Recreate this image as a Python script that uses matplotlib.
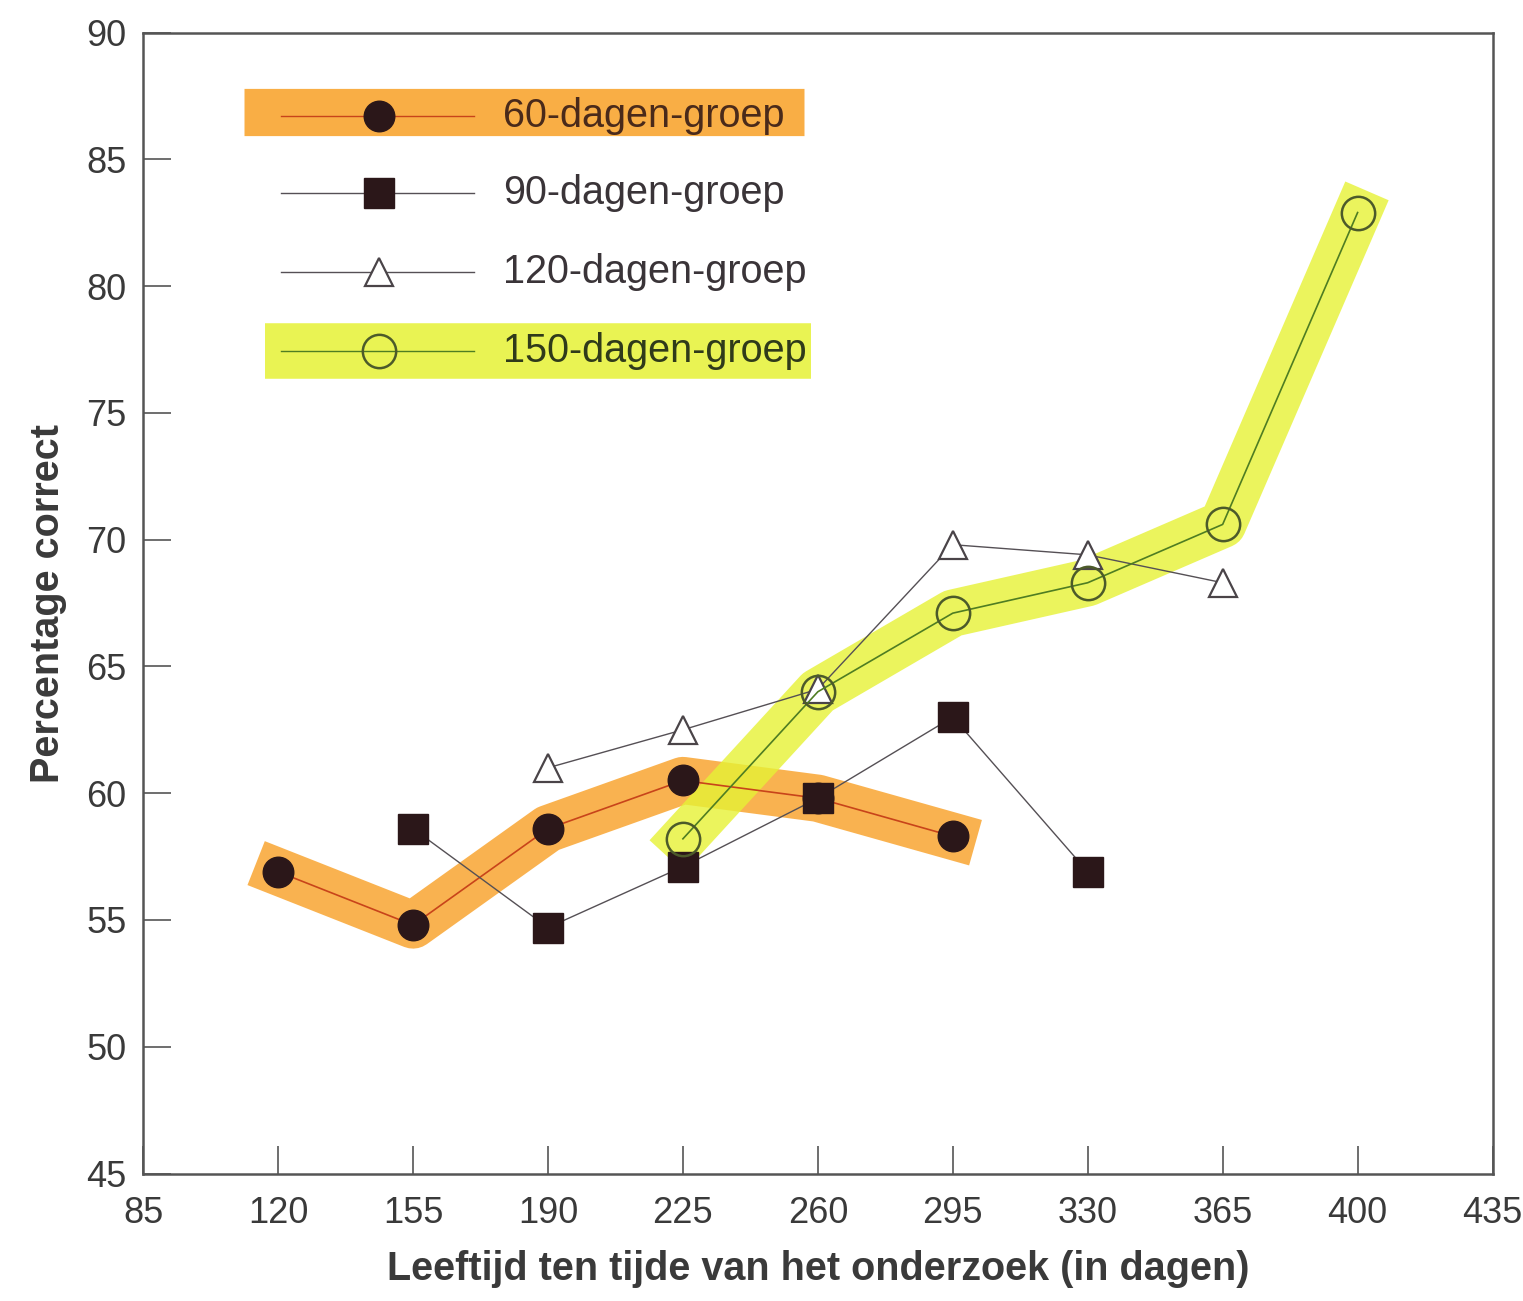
import numpy as np
import matplotlib.pyplot as plt

IMAGE_WIDTH = 1523
IMAGE_HEIGHT = 1301

plt.rcParams['font.family'] = ['Liberation Sans', 'DejaVu Sans']

# data
x60 = [120, 155, 190, 225, 260, 295]
y60 = [56.9, 54.8, 58.6, 60.5, 59.8, 58.3]
x90 = [155, 190, 225, 260, 295, 330]
y90 = [58.6, 54.7, 57.1, 59.8, 63.0, 56.9]
x120 = [190, 225, 260, 295, 330, 365]
y120 = [61.0, 62.5, 64.1, 69.8, 69.4, 68.3]
x150 = [225, 260, 295, 330, 365, 400]
y150 = [58.2, 64.0, 67.1, 68.3, 70.6, 82.9]
labels = ['60-dagen-groep', '90-dagen-groep', '120-dagen-groep', '150-dagen-groep']
xticks = [85, 120, 155, 190, 225, 260, 295, 330, 365, 400, 435]
yticks = [45, 50, 55, 60, 65, 70, 75, 80, 85, 90]

ORANGE_HL = '#f9a531'
YELLOW_HL = '#e6f235'
DARK = '#2b1719'
GRAY = '#555055'

fig = plt.figure(figsize=(IMAGE_WIDTH / 100, IMAGE_HEIGHT / 100), dpi=100)
ax = fig.add_axes([0.094, 0.098, 0.886, 0.877])

# highlighter strokes
ax.plot(x60, y60, color=ORANGE_HL, lw=34, alpha=0.85, solid_capstyle='projecting',
        solid_joinstyle='round', zorder=1)
ax.plot(x150, y150, color=YELLOW_HL, lw=34, alpha=0.8, solid_capstyle='projecting',
        solid_joinstyle='round', zorder=1)

# series
ax.plot(x90, y90, color=GRAY, lw=1.0, marker='s', ms=21, mfc=DARK, mec=DARK, zorder=4)
ax.plot(x120, y120, color=GRAY, lw=1.0, marker='^', ms=20, mfc='white', mec='#4a4448',
        mew=1.6, zorder=3)
ax.plot(x60, y60, color='#c8441a', lw=1.2, marker='o', ms=22, mfc=DARK, mec=DARK, zorder=3)
ax.plot(x150, y150, color='#4f7d22', lw=1.2, marker='o', ms=24, mfc='none', mec='#4c5a2a',
        mew=1.8, zorder=5)

# hand-made legend with highlights
tr = ax.transAxes
ax.plot([0.075, 0.49], [0.93, 0.93], transform=tr, color=ORANGE_HL, lw=34, alpha=0.9,
        solid_capstyle='butt', zorder=1)
ax.plot([0.09, 0.495], [0.721, 0.721], transform=tr, color=YELLOW_HL, lw=40, alpha=0.85,
        solid_capstyle='butt', zorder=1)
rows = [0.927, 0.859, 0.790, 0.721]
styles = [
    dict(color='#c8441a', marker='o', ms=22, mfc=DARK, mec=DARK),
    dict(color=GRAY, marker='s', ms=21, mfc=DARK, mec=DARK),
    dict(color=GRAY, marker='^', ms=20, mfc='white', mec='#4a4448', mew=1.6),
    dict(color='#4f7d22', marker='o', ms=24, mfc='none', mec='#4c5a2a', mew=1.8),
]
txt_colors = ['#4a2a1a', '#3a3438', '#3a3438', '#2f3a1a']
for yy, st, lab, tc in zip(rows, styles, labels, txt_colors):
    ax.plot([0.102, 0.245], [yy, yy], transform=tr, lw=1.0, zorder=3,
            **{k: v for k, v in st.items() if k not in ('marker', 'ms', 'mfc', 'mec', 'mew')})
    ax.plot([0.175], [yy], transform=tr, linestyle='none', zorder=4,
            **{k: v for k, v in st.items() if k != 'color'})
    ax.text(0.267, yy, lab, transform=tr, fontsize=28.5, color=tc, va='center', ha='left')

ax.set_xlim(85, 435)
ax.set_ylim(45, 90)
ax.set_xticks(xticks)
ax.set_yticks(yticks)
ax.tick_params(direction='in', length=20, width=1.2, colors='#555', labelcolor='#3a3a3a',
               labelsize=26, pad=12)
ax.tick_params(axis='x', pad=16)
for s in ax.spines.values():
    s.set_color('#555')
    s.set_linewidth(1.8)

ax.set_xlabel('Leeftijd ten tijde van het onderzoek (in dagen)', fontsize=28.5,
              fontweight='bold', color='#3a3a3a', labelpad=14)
ax.set_ylabel('Percentage correct', fontsize=28.5, fontweight='bold', color='#3a3a3a',
              labelpad=14)

fig.savefig('out.png', dpi=100)
plt.close(fig)
